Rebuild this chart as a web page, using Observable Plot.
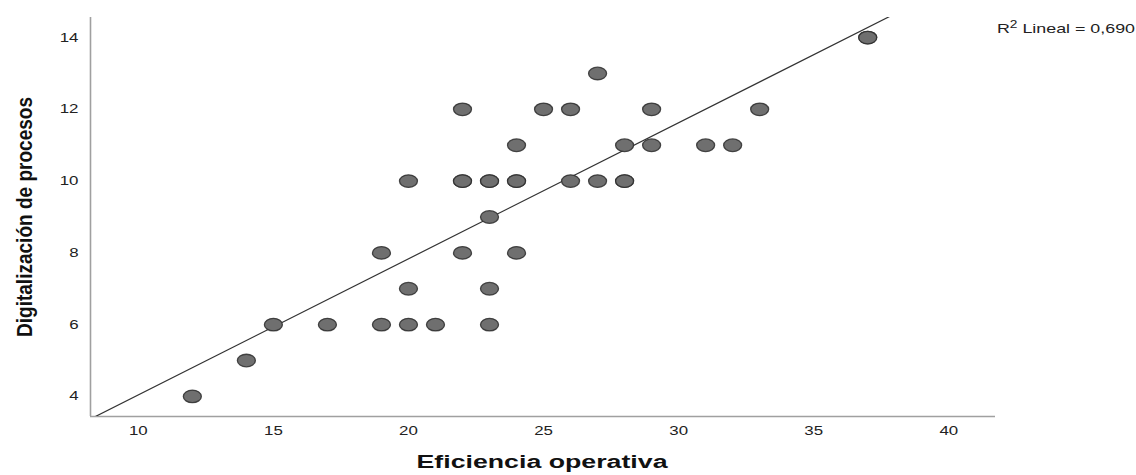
<!DOCTYPE html>
<html>
<head>
<meta charset="utf-8">
<script src="https://cdn.jsdelivr.net/npm/d3@7"></script>
<script src="https://cdn.jsdelivr.net/npm/@observablehq/plot@0.6"></script>
<style>
  html, body { margin: 0; padding: 0; background: #fff; }
  #chart svg { display: block; }
</style>
</head>
<body>
<div id="chart"></div>
<script>
// Data (overplotted points repeated)
const eficiencia     = [12, 14, 15, 17, 19, 20, 21, 23, 20, 23, 19, 22, 24, 23, 20, 22, 22, 23, 23, 24, 24, 26, 27, 28, 28, 24, 28, 29, 31, 32, 22, 25, 26, 29, 33, 27, 37, 37];
const digitalizacion = [ 4,  5,  6,  6,  6,  6,  6,  6,  7,  7,  8,  8,  8,  9, 10, 10, 10, 10, 10, 10, 10, 10, 10, 10, 10, 11, 11, 11, 11, 11, 12, 12, 12, 12, 12, 13, 14, 14];
const xTicks = [10, 15, 20, 25, 30, 35, 40];
const yTicks = [4, 6, 8, 10, 12, 14];
const xLabel = "Eficiencia operativa";
const yLabel = "Digitalización de procesos";
const r2Label = "Lineal = 0,690";

const data = eficiencia.map((x, i) => ({x, y: digitalizacion[i]}));

const xDomain = [8.23, 41.73];
const yDomain = [3.44, 14.56];

// least-squares fit line, drawn across the full x domain (clipped to the frame)
const mx = d3.mean(eficiencia), my = d3.mean(digitalizacion);
const sxy = d3.sum(data, d => (d.x - mx) * (d.y - my));
const sxx = d3.sum(data, d => (d.x - mx) ** 2);
const slope = sxy / sxx, intercept = my - slope * mx;
const fitLine = xDomain.map(x => ({x, y: intercept + slope * x}));

const ellipse = {
  draw(ctx) {
    const rx = 9, ry = 6.3, k = 0.5523;
    ctx.moveTo(rx, 0);
    ctx.bezierCurveTo(rx, ry * k, rx * k, ry, 0, ry);
    ctx.bezierCurveTo(-rx * k, ry, -rx, ry * k, -rx, 0);
    ctx.bezierCurveTo(-rx, -ry * k, -rx * k, -ry, 0, -ry);
    ctx.bezierCurveTo(rx * k, -ry, rx, -ry * k, rx, 0);
    ctx.closePath();
  }
};

const chart = Plot.plot({
  width: 1136,
  height: 475,
  marginLeft: 90,
  marginRight: 141,
  marginTop: 17,
  marginBottom: 59,
  style: {fontFamily: "'Liberation Sans', Arial, sans-serif", fontSize: "13px", color: "#222", background: "#fff"},
  x: {domain: xDomain, ticks: xTicks},
  y: {domain: yDomain, ticks: yTicks},
  marks: [
    Plot.ruleX([xDomain[0]], {stroke: "#a0a0a0", strokeWidth: 1.6}),
    Plot.ruleY([yDomain[0]], {stroke: "#a0a0a0", strokeWidth: 1.6}),
    Plot.axisX({ticks: xTicks, tickSize: 0, tickPadding: 10, label: null, fontSize: 12.5, fill: "#222"}),
    Plot.axisY({ticks: yTicks, tickSize: 0, tickPadding: 12, label: null, fontSize: 12.5, fill: "#222"}),
    Plot.line(fitLine, {x: "x", y: "y", stroke: "#333", strokeWidth: 1.2, clip: true}),
    Plot.dot(data, {x: "x", y: "y", symbol: ellipse, fill: "#6f6f6f", stroke: "#2e2e2e", strokeWidth: 1.3, strokeOpacity: 0.85})
  ]
});

const svg = d3.select(chart);
// axis titles
svg.append("text")
  .attr("x", 542).attr("y", 468)
  .attr("text-anchor", "middle")
  .attr("font-family", "'Liberation Sans', Arial, sans-serif")
  .attr("font-weight", "bold")
  .attr("font-size", 18)
  .attr("fill", "#111")
  .attr("textLength", 251)
  .attr("lengthAdjust", "spacingAndGlyphs")
  .text(xLabel);
svg.append("text")
  .attr("transform", "translate(32,217) rotate(-90)")
  .attr("text-anchor", "middle")
  .attr("font-family", "'Liberation Sans', Arial, sans-serif")
  .attr("font-weight", "bold")
  .attr("font-size", 22)
  .attr("fill", "#111")
  .attr("textLength", 240)
  .attr("lengthAdjust", "spacingAndGlyphs")
  .text(yLabel);
// R² annotation
const r2 = svg.append("text")
  .attr("x", 997).attr("y", 33)
  .attr("text-anchor", "start")
  .attr("font-family", "'Liberation Sans', Arial, sans-serif")
  .attr("font-size", 13)
  .attr("fill", "#222")
  .attr("textLength", 138)
  .attr("lengthAdjust", "spacingAndGlyphs");
r2.append("tspan").text("R");
r2.append("tspan").attr("dy", -5).attr("font-size", 10).text("2");
r2.append("tspan").attr("dy", 5).text(" " + r2Label);

document.getElementById("chart").appendChild(chart);

// the reference's tick labels are horizontally stretched
svg.selectAll("g[aria-label$='tick label'] text").each(function() {
  const w = this.getComputedTextLength();
  d3.select(this).attr("textLength", w * 1.35).attr("lengthAdjust", "spacingAndGlyphs");
});
</script>
</body>
</html>
